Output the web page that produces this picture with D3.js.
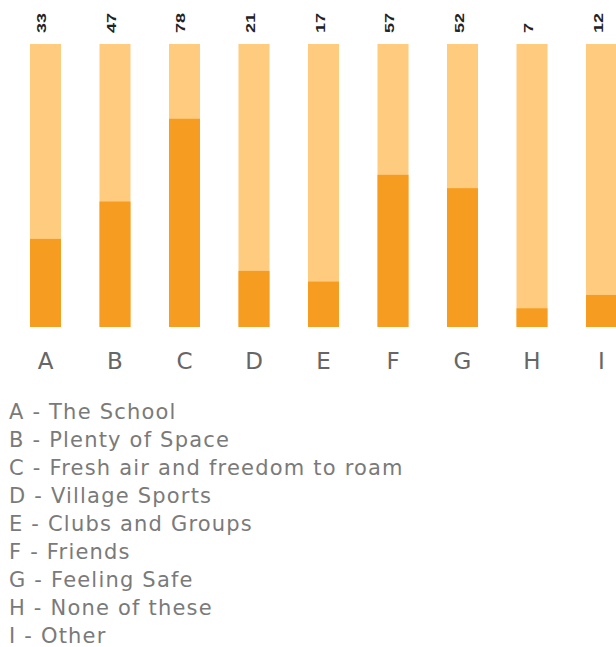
<!DOCTYPE html>
<html><head><meta charset="utf-8">
<script src="https://cdn.jsdelivr.net/npm/d3@7/dist/d3.min.js"></script>
<style>body{margin:0;background:#fff;} svg{display:block;}</style>
</head><body>
<script>
const categories = ["A","B","C","D","E","F","G","H","I"];
const values = [33,47,78,21,17,57,52,7,12];
const legendLabels = ["A - The School","B - Plenty of Space","C - Fresh air and freedom to roam","D - Village Sports","E - Clubs and Groups","F - Friends","G - Feeling Safe","H - None of these","I - Other"];

const W = 616, H = 647;
const svg = d3.select("body").append("svg").attr("width", W).attr("height", H);

const x = d3.scaleBand().domain(categories).range([30, 617]).paddingInner(0.554).paddingOuter(0);
const y = d3.scaleLinear().domain([0, 106]).range([327, 44]);

const data = categories.map((c,i)=>({c, v: values[i]}));

svg.selectAll("rect.bg").data(data).join("rect").attr("class","bg")
  .attr("x", d=>x(d.c)).attr("width", x.bandwidth())
  .attr("y", y.range()[1]).attr("height", y.range()[0]-y.range()[1])
  .attr("fill", "#FECB7F");

svg.selectAll("rect.fg").data(data).join("rect").attr("class","fg")
  .attr("x", d=>x(d.c)).attr("width", x.bandwidth())
  .attr("y", d=>y(d.v)).attr("height", d=>y(0)-y(d.v))
  .attr("fill", "#F69C21");

svg.selectAll("text.val").data(data).join("text").attr("class","val")
  .attr("transform", d=>`translate(${x(d.c)+x.bandwidth()/2+1},33) rotate(-90) scale(1.5,1)`)
  .attr("text-anchor","start")
  .attr("font-family","Liberation Sans, Arial, sans-serif")
  .attr("font-size", 12).attr("font-weight","bold").attr("fill","#222")
  .text(d=>d.v);

const xAxis = d3.axisBottom(x).tickSize(0).tickPadding(0);
const gx = svg.append("g").attr("transform","translate(0,353)").call(xAxis);
gx.select(".domain").remove();
gx.selectAll("text").attr("font-family","DejaVu Sans, sans-serif").attr("font-weight",400)
  .attr("font-size", 23).attr("fill","#666").attr("dy","0.71em");

svg.append("g").selectAll("text").data(legendLabels).join("text")
  .attr("x", 9).attr("y", (d,i)=>419 + i*28)
  .attr("font-family","DejaVu Sans, sans-serif").attr("font-weight",400)
  .attr("font-size", 21).attr("fill","#7a7a7a").attr("letter-spacing", 1.2)
  .text(d=>d);
</script>
</body></html>
